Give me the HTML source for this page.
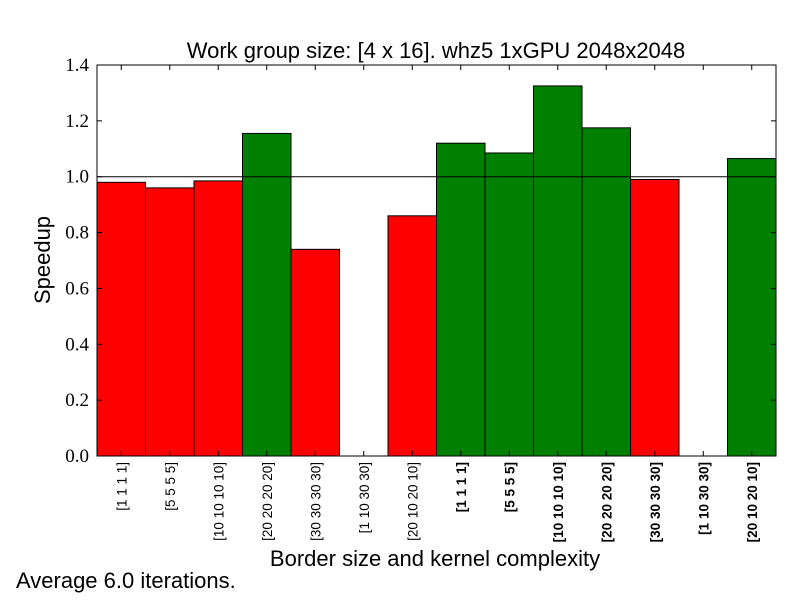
<!DOCTYPE html>
<html><head><meta charset="utf-8"><style>
body{margin:0;background:#fff}
svg{display:block}
</style></head><body>
<svg id="chart" width="800" height="600" xmlns="http://www.w3.org/2000/svg">
<rect width="800" height="600" fill="#fff"/>
<text x="436" y="58" text-anchor="middle" font-family="Liberation Sans, sans-serif" font-size="22">Work group size: [4 x 16]. whz5 1xGPU 2048x2048</text>
<text transform="translate(50,260) rotate(-90)" text-anchor="middle" font-family="Liberation Sans, sans-serif" font-size="22">Speedup</text>
<text x="435" y="566" text-anchor="middle" font-family="Liberation Sans, sans-serif" font-size="22">Border size and kernel complexity</text>
<text x="16" y="588" font-family="Liberation Sans, sans-serif" font-size="22">Average 6.0 iterations.</text>
<g id="bars"></g>
<g id="axes"></g>
</svg>
<script>
const categories=["[1 1 1 1]","[5 5 5 5]","[10 10 10 10]","[20 20 20 20]","[30 30 30 30]","[1 10 30 30]","[20 10 20 10]","[1 1 1 1]","[5 5 5 5]","[10 10 10 10]","[20 20 20 20]","[30 30 30 30]","[1 10 30 30]","[20 10 20 10]"];
const speedups=[0.98,0.96,0.985,1.155,0.74,0,0.86,1.12,1.085,1.325,1.175,0.99,0,1.065];
const boldLabels=[false,false,false,false,false,false,false,true,true,true,true,true,true,true];
const yTicks=[0,0.2,0.4,0.6,0.8,1.0,1.2,1.4];
const yTickLabels=["0.0","0.2","0.4","0.6","0.8","1.0","1.2","1.4"];
const L=97,R=776,T=65,B=456,yMax=1.4;
const NS="http://www.w3.org/2000/svg";
const bw=(R-L)/categories.length;
const xs=i=>L+i*bw;
const ys=v=>B-(v/yMax)*(B-T);
function mk(tag,attrs,parent){const e=document.createElementNS(NS,tag);for(const k in attrs)e.setAttribute(k,attrs[k]);parent.appendChild(e);return e;}
const bars=document.getElementById('bars'),axes=document.getElementById('axes');
speedups.forEach((v,i)=>{
  const r=mk('rect',{x:xs(i),y:ys(v),width:bw,height:B-ys(v),fill:v>=1?'#008000':'#ff0000',stroke:'#000','stroke-width':1},bars);
  
  
  const cx=xs(i)+bw/2;
  mk('line',{x1:cx,x2:cx,y1:B,y2:B-5,stroke:'#000'},axes);
  mk('line',{x1:cx,x2:cx,y1:T,y2:T+5,stroke:'#000'},axes);
  const t=mk('text',{transform:`translate(${cx+5},${B+6}) rotate(-90)`,'text-anchor':'end','font-family':'Liberation Sans, sans-serif','font-size':13.5,'font-weight':boldLabels[i]?'bold':'normal'},axes);
  t.textContent=categories[i];
  
  
});
const ref=mk('line',{x1:L,x2:R,y1:ys(1),y2:ys(1),stroke:'#000','stroke-width':1},axes);


yTicks.forEach((v,i)=>{
  const y=ys(v);
  mk('line',{x1:L,x2:L+5,y1:y,y2:y,stroke:'#000'},axes);
  mk('line',{x1:R,x2:R-5,y1:y,y2:y,stroke:'#000'},axes);
  const t=mk('text',{x:L-8,y:y+6,'text-anchor':'end','font-family':'Liberation Serif, serif','font-size':19},axes);
  t.textContent=yTickLabels[i];
  
  
});
const f=mk('rect',{x:L,y:T,width:R-L,height:B-T,fill:'none',stroke:'#000','stroke-width':1},axes);


</script>
</body></html>
